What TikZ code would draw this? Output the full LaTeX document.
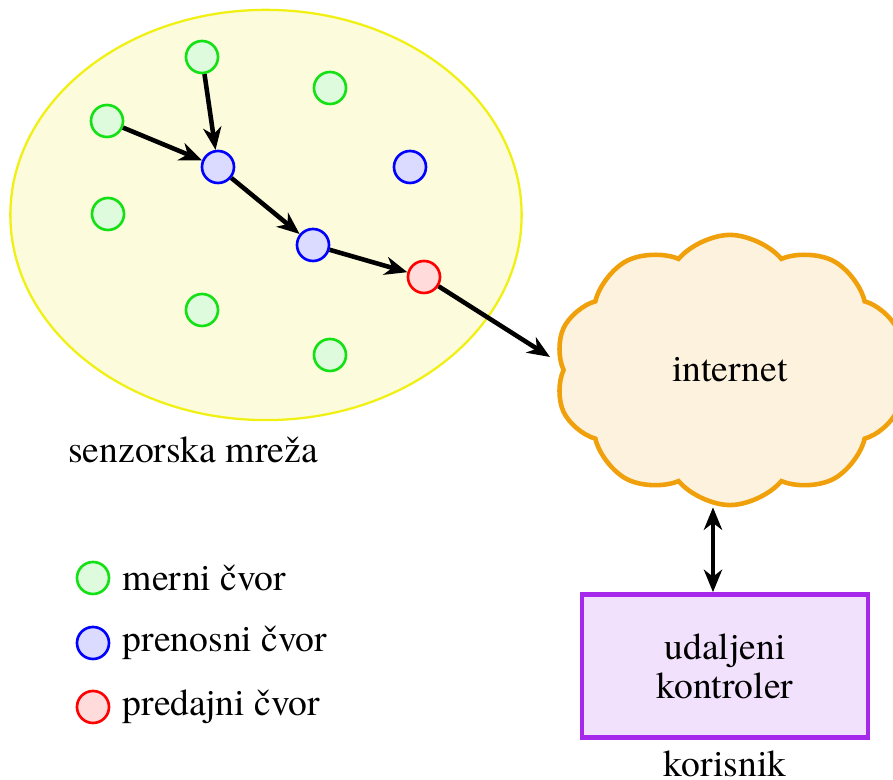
\documentclass[tikz,border=0pt]{standalone}
\usepackage{fontspec}
\setmainfont{texgyretermes}[Extension=.otf,UprightFont=*-regular,
  BoldFont=*-bold,ItalicFont=*-italic,BoldItalicFont=*-bolditalic]
\usepackage{tikz}
\usetikzlibrary{arrows.meta,shapes,calc,positioning}
\definecolor{zutoPolje}{RGB}{252,252,220}
\definecolor{zutaIvica}{RGB}{240,240,20}
\definecolor{narandzasta}{RGB}{240,160,10}
\definecolor{ljubicasta}{RGB}{165,40,235}
\definecolor{zelena}{RGB}{20,225,20}
\tikzstyle{edge}  =[>={Stealth[length=6.4pt,width=5.2pt,inset=2pt]},
                    line width=1.3pt]
\tikzstyle{vertex}=[circle, draw, minimum size=0.32cm,
                    line width=0.75pt, inner sep=0pt]
\tikzstyle{merni}   =[vertex, draw=zelena, fill=zelena!14]
\tikzstyle{prenosni}=[vertex, draw=blue, fill=blue!14]
\tikzstyle{predajni}=[vertex, draw=red, fill=red!14]

\begin{document}
\begin{tikzpicture}[x=0.01cm,y=-0.01cm,font=\fontsize{10.7}{11.1}\selectfont]
\useasboundingbox (0,0) rectangle (893,780);
%%%%%%%%%%%%%%%%%%%%%%%%%%%%%%%%%%%%%%%%%%%%%%%%
%%%%%%%%%%       Senzorska mreza      %%%%%%%%%%
%%%%%%%%%%%%%%%%%%%%%%%%%%%%%%%%%%%%%%%%%%%%%%%%
\node (polje) [ellipse, draw=zutaIvica, fill=zutoPolje, line width=0.65pt,
               minimum width=5.11cm, minimum height=4.1cm] at (266,215){};

\foreach \i/\x/\y in {1/202/57,2/330/88,3/107/121,4/108/214,5/202/310,6/330/355}
	\node (m\i) [merni] at (\x,\y){};
\foreach \i/\x/\y in {1/218/167,2/410/167,3/313/245}
	\node (p\i) [prenosni] at (\x,\y){};
\node (d) [predajni] at (424,277){};
\coordinate (ulaz) at (550,357);

\draw [edge,->] (m3) to (p1);
\draw [edge,->] (m1) to (p1);
\draw [edge,->] (p1) to (p3);
\draw [edge,->] (p3) to (d);
\draw [edge,->] (d) to (ulaz);

\node (L) at (193,450){senzorska mreža};

%%%%%%%%%%%%%%%%%%%%%%%%%%%%%%%%%%%%%%%%%%%%%%%%
%%%%%%%%%%      Internet i korisnik   %%%%%%%%%%
%%%%%%%%%%%%%%%%%%%%%%%%%%%%%%%%%%%%%%%%%%%%%%%%
\node (cloud) [cloud, cloud puffs=10, cloud puff arc=100, aspect=1.27,
               draw=narandzasta, fill=narandzasta!14, line width=1.3pt,
               minimum width=3.5cm, minimum height=2.7cm] at (730,370){internet};

\node (kontroler) [draw=ljubicasta, fill=ljubicasta!14, line width=1.3pt,
                   minimum width=2.86cm, minimum height=1.43cm,
                   align=center] at (725,666){udaljeni\\kontroler};
\node (korisnik) at (725,764){korisnik};

\draw [edge,<->] ([xshift=-0.12cm]kontroler.north)
	to ([xshift=-0.12cm]kontroler.north |- cloud.south);

%%%%%%%%%%%%%%%%%%%%%%%%%%%%%%%%%%%%%%%%%%%%%%%%
%%%%%%%%%%           Legenda          %%%%%%%%%%
%%%%%%%%%%%%%%%%%%%%%%%%%%%%%%%%%%%%%%%%%%%%%%%%
\foreach \y/\stil/\tekst in {578/merni/merni čvor,643/prenosni/prenosni čvor,707/predajni/predajni čvor}{
	\node (l\stil) [\stil] at (93,\y){};
	\node (t\stil) [right=0pt of l\stil]{\tekst};
}
\end{tikzpicture}
\end{document}
